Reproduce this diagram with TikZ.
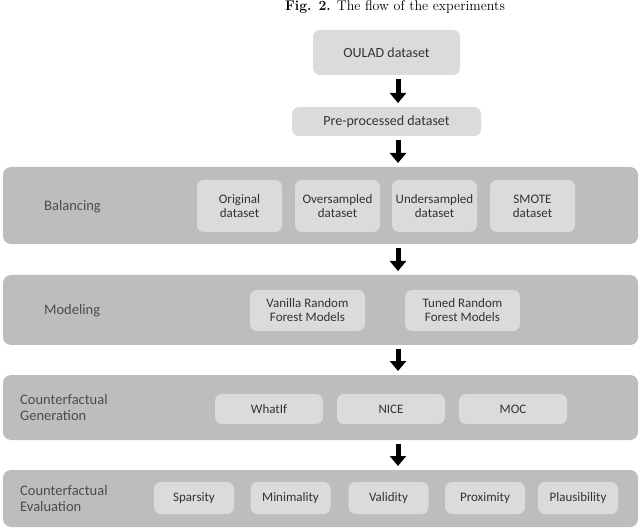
\documentclass[tikz,border=0pt]{standalone}
\usepackage{fontspec}
\newfontfamily\carl{Carlito}
\usetikzlibrary{arrows.meta}
\begin{document}
\begin{tikzpicture}[x=1pt,y=-1pt,
  band/.style={draw=none,rounded corners=8pt,fill=gray!52,inner sep=0},
  box/.style={rounded corners=7pt,fill=gray!28,text=black!80,font=\carl\fontsize{13}{14}\selectfont,align=center,inner sep=0},
  lab/.style={text=black!70,font=\carl\fontsize{14.5}{16}\selectfont,align=left,inner sep=0},
  flow/.style={line width=5pt,-{Triangle[width=16pt,length=10pt]},shorten <=4pt,shorten >=4pt}]
\useasboundingbox (0,0) rectangle (640,529);
\node[font=\fontsize{14}{15}\selectfont] (title) at (395,7) {\textbf{Fig. 2.} The flow of the experiments};
\node[box,minimum width=147,minimum height=45,font=\carl\fontsize{14}{15}\selectfont] (oulad) at (386.5,52.5) {OULAD dataset};
\node[box,minimum width=189,minimum height=29,font=\carl\fontsize{14}{15}\selectfont] (pre) at (386.5,121.5) {Pre-processed dataset};
% bands
\node[band,minimum width=635,minimum height=77] (bal) at (320.5,205.5) {};
\node[band,minimum width=635,minimum height=70] (mod) at (320.5,310) {};
\node[band,minimum width=635,minimum height=65] (gen) at (320.5,407.5) {};
\node[band,minimum width=635,minimum height=57] (eva) at (320.5,498.5) {};
\node[lab,anchor=west] (lbal) at (44,207) {Balancing};
\node[lab,anchor=west] (lmod) at (44,311) {Modeling};
\node[lab,anchor=west] (lgen) at (20,408) {Counterfactual\\Generation};
\node[lab,anchor=west] (leva) at (20,499) {Counterfactual\\Evaluation};
% balancing
\foreach \n/\x/\t in {b1/239.5/Original\\dataset, b2/337.5/Oversampled\\dataset, b3/434.5/Undersampled\\dataset, b4/532.5/SMOTE\\dataset}
  \node[box,minimum width=85,minimum height=52] (\n) at (\x,206) {\t};
% modeling
\node[box,minimum width=115,minimum height=41] (m1) at (307.5,310.5) {Vanilla Random\\Forest Models};
\node[box,minimum width=115,minimum height=41] (m2) at (462.5,310.5) {Tuned Random\\Forest Models};
% generation
\foreach \n/\x/\t in {g1/269/WhatIf, g2/391/NICE, g3/513/MOC}
  \node[box,minimum width=108,minimum height=30] (\n) at (\x,409) {\t};
% evaluation
\foreach \n/\x/\t in {e1/194/Sparsity, e2/290.5/Minimality, e3/388.5/Validity, e4/485/Proximity, e5/578/Plausibility}
  \node[box,minimum width=80,minimum height=32] (\n) at (\x,498) {\t};
% arrows
\coordinate (a1) at (398,75); \coordinate (a2) at (398,107);
\draw[flow] (a1) -- (a2);
\coordinate (a3) at (398,136); \coordinate (a4) at (398,167);
\draw[flow] (a3) -- (a4);
\coordinate (a5) at (398,244); \coordinate (a6) at (398,275);
\draw[flow] (a5) -- (a6);
\coordinate (a7) at (398,345); \coordinate (a8) at (398,375);
\draw[flow] (a7) -- (a8);
\coordinate (a9) at (398,440); \coordinate (a10) at (398,470);
\draw[flow] (a9) -- (a10);
\end{tikzpicture}
\end{document}
